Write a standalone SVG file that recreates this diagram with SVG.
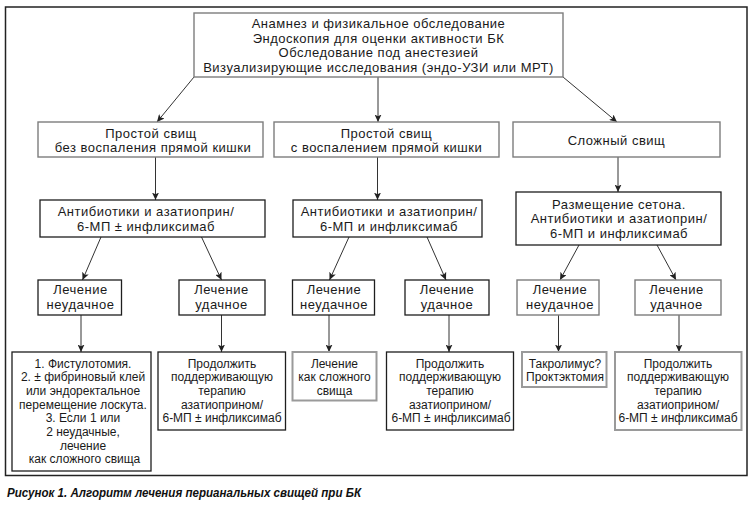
<svg xmlns="http://www.w3.org/2000/svg" width="753" height="507" viewBox="0 0 753 507">
<defs>
<style>
.t{font-family:"Liberation Sans",Arial,sans-serif;font-size:13px;letter-spacing:0.5px;fill:#1a1a1a;text-anchor:middle}
.s{font-size:12px;letter-spacing:0}
.bg{fill:#fff;stroke:#7d7d7d;stroke-width:1.4}
.bk{fill:#fff;stroke:#1e1e1e;stroke-width:1.3}
.bl{fill:#fff;stroke:#9a9a9a;stroke-width:2}
.ca{stroke:#333;stroke-width:1;fill:none;marker-end:url(#ah)}
.cap{font-family:"Liberation Sans",Arial,sans-serif;font-size:12.5px;font-weight:bold;font-style:italic;fill:#111}
</style>
<marker id="ah" markerWidth="8" markerHeight="7" refX="7.5" refY="3.5" orient="auto" markerUnits="userSpaceOnUse">
<path d="M0,0 L7.5,3.5 L0,7 L1.8,3.5 z" fill="#222"/>
</marker>
</defs>
<rect width="753" height="507" fill="#fff"/>
<rect x="5.5" y="7" width="741.5" height="468.5" fill="none" stroke="#222" stroke-width="1.5"/>

<g id="connectors">
<line class="ca" x1="194" y1="77" x2="157" y2="122"/>
<line class="ca" x1="378" y1="77" x2="378" y2="122"/>
<line class="ca" x1="563" y1="77" x2="617" y2="122"/>
<line class="ca" x1="155.5" y1="157" x2="155.5" y2="200"/>
<line class="ca" x1="377.5" y1="157" x2="377.5" y2="200"/>
<line class="ca" x1="618" y1="157" x2="618" y2="192"/>
<line class="ca" x1="101" y1="237" x2="82.5" y2="280"/>
<line class="ca" x1="201.5" y1="237" x2="221.5" y2="280"/>
<line class="ca" x1="349" y1="237" x2="329.5" y2="280"/>
<line class="ca" x1="427" y1="237" x2="446" y2="280"/>
<line class="ca" x1="579" y1="245" x2="560" y2="280"/>
<line class="ca" x1="657" y1="245" x2="676" y2="280"/>
<line class="ca" x1="81" y1="315" x2="81" y2="352"/>
<line class="ca" x1="221.5" y1="315" x2="221.5" y2="352"/>
<line class="ca" x1="329" y1="315" x2="329" y2="352"/>
<line class="ca" x1="449" y1="315" x2="449" y2="352"/>
<line class="ca" x1="558.5" y1="315" x2="558.5" y2="352"/>
<line class="ca" x1="679" y1="315" x2="679" y2="352"/>
</g>

<g id="n-top">
<rect class="bg" x="194" y="13" width="369" height="64"/>
<text class="t" x="378.5" y="28">Анамнез и физикальное обследование</text>
<text class="t" x="378.5" y="42.6">Эндоскопия для оценки активности БК</text>
<text class="t" x="378.5" y="57.2">Обследование под анестезией</text>
<text class="t" x="378.5" y="71.8">Визуализирующие исследования (эндо-УЗИ или МРТ)</text>
</g>

<g id="n-simple-no">
<rect class="bg" x="38" y="122" width="225" height="35"/>
<text class="t" x="151" y="137.5">Простой свищ</text>
<text class="t" x="153" y="152.1">без воспаления прямой кишки</text>
</g>
<g id="n-simple-yes">
<rect class="bg" x="274" y="122" width="225" height="35"/>
<text class="t" x="386.5" y="137.5">Простой свищ</text>
<text class="t" x="386.5" y="152.1">с воспалением прямой кишки</text>
</g>
<g id="n-complex">
<rect class="bg" x="513" y="122" width="207" height="35"/>
<text class="t" x="616.5" y="144.5">Сложный свищ</text>
</g>

<g id="n-abx1">
<rect class="bk" x="40" y="200" width="225" height="37"/>
<text class="t" x="146" y="216.3">Антибиотики и азатиоприн/</text>
<text class="t" x="146" y="230.9">6-МП ± инфликсимаб</text>
</g>
<g id="n-abx2">
<rect class="bk" x="293" y="200" width="189" height="37"/>
<text class="t" x="389" y="216.3">Антибиотики и азатиоприн/</text>
<text class="t" x="389" y="230.9">6-МП и инфликсимаб</text>
</g>
<g id="n-seton">
<rect class="bk" x="516" y="192" width="205" height="53"/>
<text class="t" x="619" y="208.6">Размещение сетона.</text>
<text class="t" x="619" y="223.2">Антибиотики и азатиоприн/</text>
<text class="t" x="619" y="237.8">6-МП и инфликсимаб</text>
</g>

<g id="n-fail1">
<rect class="bk" x="38" y="280" width="83.5" height="35"/>
<text class="t" x="80.5" y="294">Лечение</text>
<text class="t" x="80.5" y="308.6">неудачное</text>
</g>
<g id="n-ok1">
<rect class="bk" x="179" y="280" width="86" height="35"/>
<text class="t" x="221.5" y="294">Лечение</text>
<text class="t" x="221.5" y="308.6">удачное</text>
</g>
<g id="n-fail2">
<rect class="bk" x="292.5" y="280" width="82" height="35"/>
<text class="t" x="334" y="294">Лечение</text>
<text class="t" x="334" y="308.6">неудачное</text>
</g>
<g id="n-ok2">
<rect class="bk" x="405" y="280" width="84" height="35"/>
<text class="t" x="447" y="294">Лечение</text>
<text class="t" x="447" y="308.6">удачное</text>
</g>
<g id="n-fail3">
<rect class="bg" x="517" y="280" width="82" height="35"/>
<text class="t" x="560" y="294">Лечение</text>
<text class="t" x="560" y="308.6">неудачное</text>
</g>
<g id="n-ok3">
<rect class="bg" x="635" y="280" width="86" height="35"/>
<text class="t" x="676.5" y="294">Лечение</text>
<text class="t" x="676.5" y="308.6">удачное</text>
</g>

<g id="n-fistulotomy">
<rect class="bk" x="12" y="352" width="139" height="119"/>
<text class="t s" x="83" y="367.5">1. Фистулотомия.</text>
<text class="t s" x="83" y="381.2">2. ± фибриновый клей</text>
<text class="t s" x="83" y="394.9">или эндоректальное</text>
<text class="t s" x="83" y="408.6">перемещение лоскута.</text>
<text class="t s" x="83" y="422.3">3. Если 1 или</text>
<text class="t s" x="83" y="436">2 неудачные,</text>
<text class="t s" x="83" y="449.7">лечение</text>
<text class="t s" x="84.5" y="463.4">как сложного свища</text>
</g>
<g id="n-continue1">
<rect class="bk" x="158" y="352" width="127.5" height="78"/>
<text class="t s" x="222" y="367.5">Продолжить</text>
<text class="t s" x="222" y="381.2">поддерживающую</text>
<text class="t s" x="222" y="394.9">терапию</text>
<text class="t s" x="222" y="408.6">азатиоприном/</text>
<text class="t s" x="222" y="422.3">6-МП ± инфликсимаб</text>
</g>
<g id="n-ascomplex">
<rect class="bl" x="292.5" y="352" width="84" height="48.5"/>
<text class="t s" x="334.5" y="367.5">Лечение</text>
<text class="t s" x="334.5" y="381.2">как сложного</text>
<text class="t s" x="334.5" y="394.9">свища</text>
</g>
<g id="n-continue2">
<rect class="bk" x="386.5" y="352" width="127" height="78"/>
<text class="t s" x="450" y="367.5">Продолжить</text>
<text class="t s" x="450" y="381.2">поддерживающую</text>
<text class="t s" x="450" y="394.9">терапию</text>
<text class="t s" x="450" y="408.6">азатиоприном/</text>
<text class="t s" x="451" y="422.3">6-МП ± инфликсимаб</text>
</g>
<g id="n-tacrolimus">
<rect class="bl" x="522" y="352" width="84.5" height="35"/>
<text class="t s" x="565" y="367.5">Такролимус?</text>
<text class="t s" x="565" y="381.2">Проктэктомия</text>
</g>
<g id="n-continue3">
<rect class="bl" x="615" y="352" width="126.5" height="78"/>
<text class="t s" x="678" y="367.5">Продолжить</text>
<text class="t s" x="678" y="381.2">поддерживающую</text>
<text class="t s" x="678" y="394.9">терапию</text>
<text class="t s" x="678" y="408.6">азатиоприном/</text>
<text class="t s" x="678" y="422.3">6-МП ± инфликсимаб</text>
</g>

<text class="cap" x="7" y="497" textLength="354" lengthAdjust="spacingAndGlyphs">Рисунок 1. Алгоритм лечения перианальных свищей при БК</text>
</svg>
